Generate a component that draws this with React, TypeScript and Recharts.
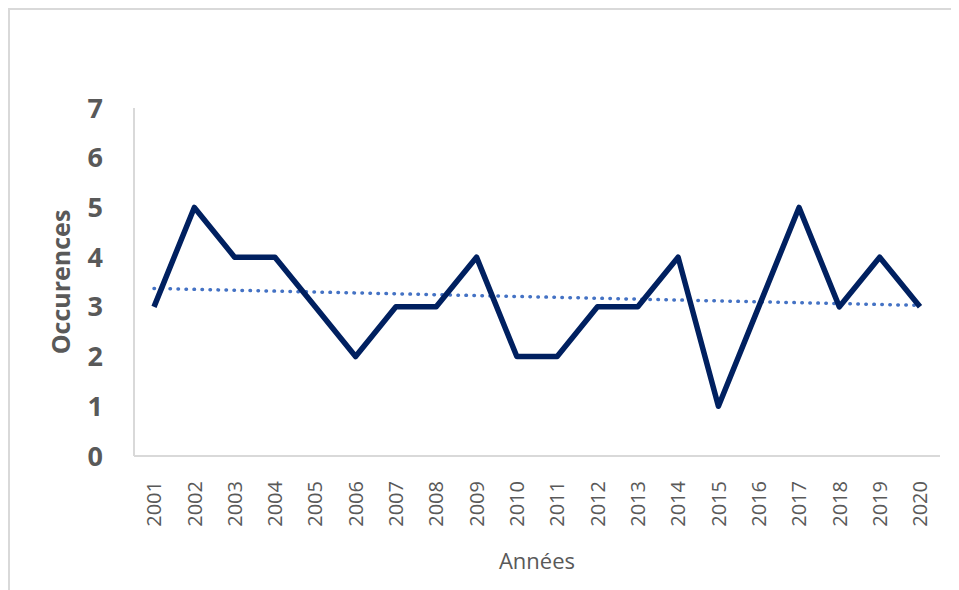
import React from 'react';
import { LineChart, Line, XAxis, YAxis, Label } from 'recharts';

const years = ['2001', '2002', '2003', '2004', '2005', '2006', '2007', '2008', '2009', '2010',
  '2011', '2012', '2013', '2014', '2015', '2016', '2017', '2018', '2019', '2020'];
const occurences = [3, 5, 4, 4, 3, 2, 3, 3, 4, 2, 2, 3, 3, 4, 1, 3, 5, 3, 4, 3];
// linear trend read at its two ends
const trendStart = 3.37;
const trendEnd = 3.03;
const yTicks = [0, 1, 2, 3, 4, 5, 6, 7];

const data = years.map((year, i) => ({
  year,
  value: occurences[i],
  trend: i === 0 ? trendStart : i === years.length - 1 ? trendEnd : null,
}));

const TEXT = '#595959';
const FONT = '"Open Sans", "Liberation Sans", sans-serif';

const YearTick = (props: any) => {
  const { x, y, payload } = props;
  return (
    <g transform={`translate(${x},${y + 17}) rotate(-90)`}>
      <text textAnchor="end" dy="0.36em" fill={TEXT} fontSize={20} fontFamily={FONT}>
        {payload.value}
      </text>
    </g>
  );
};

export default function App() {
  return (
    <div
      style={{
        width: 951,
        height: 582,
        borderTop: '2px solid #d9d9d9',
        borderLeft: '2px solid #d9d9d9',
        boxSizing: 'border-box',
        background: '#fff',
      }}
    >
      <LineChart width={949} height={580} data={data} margin={{ top: 98, right: 19, left: 0, bottom: 0 }}>
        <XAxis
          dataKey="year"
          height={134}
          padding={{ left: 20, right: 20 }}
          tick={<YearTick />}
          tickLine={false}
          interval={0}
          axisLine={{ stroke: '#d9d9d9', strokeWidth: 2 }}
        >
          <Label value="Années" position="insideBottom" offset={21} fill={TEXT} fontSize={22} fontFamily={FONT} />
        </XAxis>
        <YAxis
          width={124}
          domain={[0, 7]}
          ticks={yTicks}
          tickSize={0}
          tickMargin={31}
          tickLine={false}
          axisLine={{ stroke: '#d9d9d9', strokeWidth: 2 }}
          tick={{ fill: TEXT, fontSize: 27, fontWeight: 700, fontFamily: FONT }}
        >
          <Label
            value="Occurences"
            angle={-90}
            position="insideLeft"
            offset={51}
            fill={TEXT}
            fontSize={25}
            fontWeight={700}
            fontFamily={FONT}
            style={{ textAnchor: 'middle' }}
          />
        </YAxis>
        <Line
          dataKey="trend"
          connectNulls
          stroke="#4472c4"
          strokeWidth={3.5}
          strokeDasharray="0.5 7.5"
          strokeLinecap="round"
          dot={false}
          activeDot={false}
          isAnimationActive={false}
        />
        <Line
          dataKey="value"
          stroke="#002060"
          strokeWidth={5.5}
          strokeLinejoin="round"
          dot={false}
          activeDot={false}
          isAnimationActive={false}
        />
      </LineChart>
    </div>
  );
}
